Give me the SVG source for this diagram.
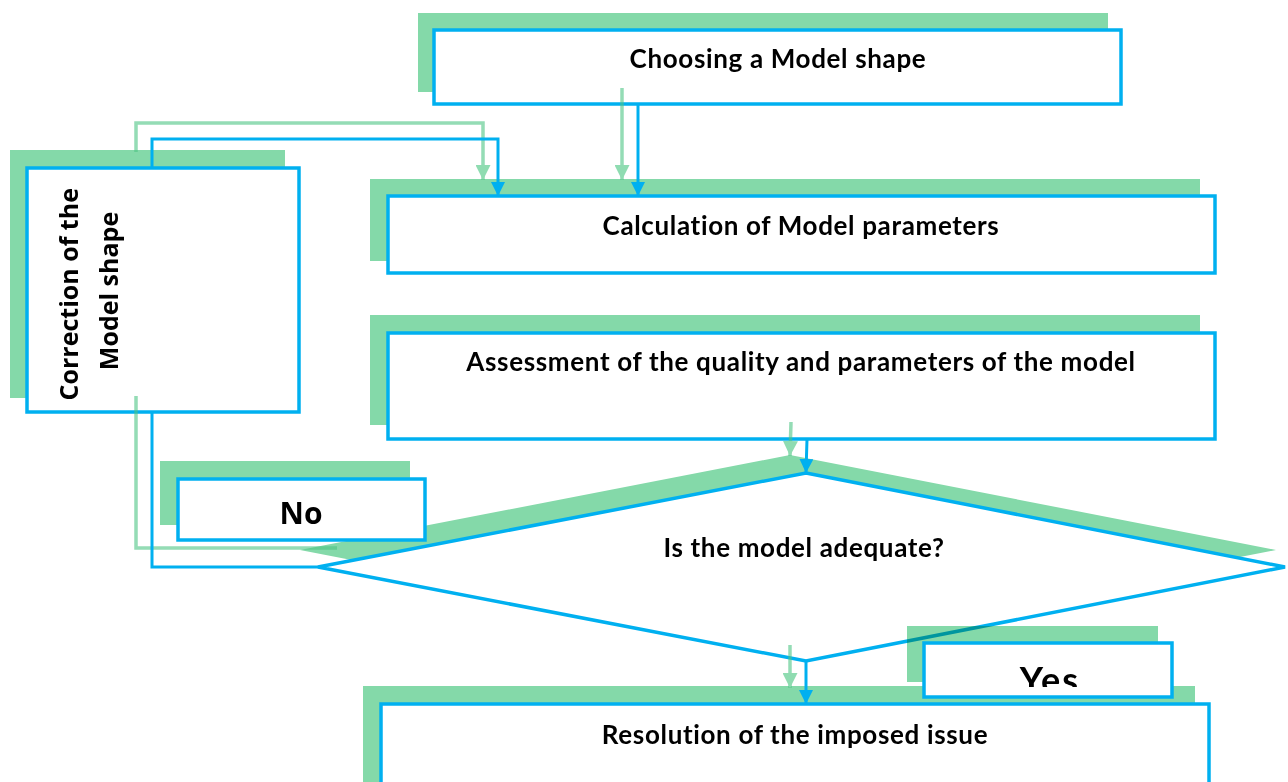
<svg xmlns="http://www.w3.org/2000/svg" width="1288" height="782" viewBox="0 0 1288 782">
  <style>
    .shadow { fill: #84d9a9; }
    .box { fill: #ffffff; stroke: #00b0f0; stroke-width: 3.5; }
    .label { font-family: Lato, "Liberation Sans", sans-serif; font-weight: bold; font-size: 26px; letter-spacing: 0.65px; fill: #000000; text-anchor: middle; }
    .big { font-size: 36px; letter-spacing: 2px; }
    .round { font-family: "Open Sans", "DejaVu Sans", sans-serif; font-weight: bold; fill: #000000; text-anchor: middle; }
    .link { fill: none; stroke: #00b0f0; stroke-width: 3; }
    .link-shadow { fill: none; stroke: #4cc483; stroke-opacity: 0.6; stroke-width: 3.5; }
  </style>
  <defs>
    <marker id="arrow-blue" viewBox="0 0 14 14" refX="14" refY="7" markerWidth="14" markerHeight="14" markerUnits="userSpaceOnUse" orient="auto">
      <path d="M0,0 L14,7 L0,14 Z" fill="#00b0f0"/>
    </marker>
    <marker id="arrow-green" viewBox="0 0 14 14" refX="14" refY="7" markerWidth="15" markerHeight="15" markerUnits="userSpaceOnUse" orient="auto">
      <path d="M0,0 L14,7 L0,14 Z" fill="#8fdcb1"/>
    </marker>
    <clipPath id="yes-clip">
      <rect x="926" y="645" width="244" height="42"/>
    </clipPath>
  </defs>

  <rect width="1288" height="782" fill="#ffffff"/>

  <g id="choose-shape">
    <rect class="shadow" x="418" y="13" width="690" height="79"/>
    <rect class="box" x="434" y="30" width="687" height="74"/>
    <text class="label" x="778" y="68">Choosing a Model shape</text>
  </g>

  <g id="calculate-parameters">
    <rect class="shadow" x="370" y="179" width="830" height="82"/>
    <rect class="box" x="388" y="196" width="827" height="77"/>
    <text class="label" x="801" y="235">Calculation of Model parameters</text>
  </g>

  <g id="assess-model">
    <rect class="shadow" x="370" y="315" width="830" height="110"/>
    <rect class="box" x="388" y="333" width="827" height="106"/>
    <text class="label" x="801" y="371">Assessment of the quality and parameters of the model</text>
  </g>

  <g id="correct-shape">
    <rect class="shadow" x="10" y="150" width="275" height="248"/>
    <rect class="box" x="27" y="168" width="272" height="244"/>
    <text class="round" style="font-size:25px" transform="translate(78 291) rotate(-90)">
      <tspan x="0" y="0">Correction of the</tspan>
      <tspan x="0" y="40">Model shape</tspan>
    </text>
  </g>

  <g id="decision">
    <polygon class="shadow" points="790,455 1276,550 790,645 300,550"/>
    <polygon class="box" points="806,473 1285,567 806,661 318,567"/>
    <text class="label" x="804" y="557">Is the model adequate?</text>
  </g>

  <g id="no-label">
    <rect class="shadow" x="160" y="461" width="250" height="64"/>
    <rect class="box" x="178" y="479" width="247" height="61"/>
    <text class="round" style="font-size:30px" x="301" y="524">No</text>
  </g>

  <g id="resolve-issue">
    <rect class="shadow" x="363" y="686" width="832" height="110"/>
    <rect class="box" x="381" y="704" width="828" height="100"/>
    <text class="label" x="795" y="744">Resolution of the imposed issue</text>
  </g>

  <g id="yes-label">
    <rect class="shadow" x="907" y="626" width="251" height="56" style="mix-blend-mode: multiply"/>
    <rect class="box" x="924" y="643" width="248" height="54"/>
    <text class="label big" x="1050" y="693" clip-path="url(#yes-clip)">Yes</text>
  </g>

  <g id="connectors">
    <!-- shadow strokes, offset up and left -->
    <path class="link-shadow" d="M622,88 V180" marker-end="url(#arrow-green)"/>
    <path class="link-shadow" d="M136,152 V123 H483 V180" marker-end="url(#arrow-green)"/>
    <path class="link-shadow" d="M791,422 L790,456" marker-end="url(#arrow-green)"/>
    <path class="link-shadow" d="M337,548 H136 V396"/>
    <path class="link-shadow" d="M790,645 V688" marker-end="url(#arrow-green)"/>
    <!-- main strokes -->
    <path class="link" d="M638,104 V196" marker-end="url(#arrow-blue)"/>
    <path class="link" d="M152,168 V139 H498 V196" marker-end="url(#arrow-blue)"/>
    <path class="link" d="M807,439 L806,473" marker-end="url(#arrow-blue)"/>
    <path class="link" d="M318,567 H152 V412"/>
    <path class="link" d="M806,661 V704" marker-end="url(#arrow-blue)"/>
  </g>
</svg>
